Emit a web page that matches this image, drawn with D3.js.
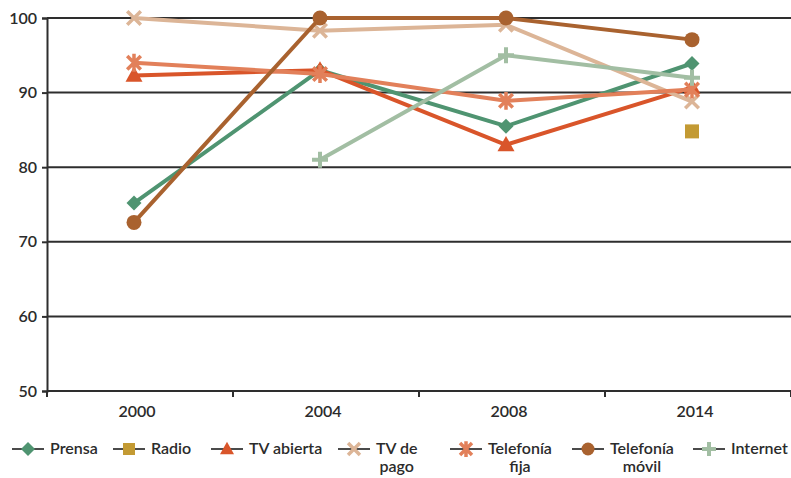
<!DOCTYPE html>
<html>
<head>
<meta charset="utf-8">
<script src="https://cdn.jsdelivr.net/npm/d3@7"></script>
<style>
  html, body { margin: 0; padding: 0; background: #fff; }
  svg { display: block; font-family: Lato, "Open Sans", sans-serif; }
</style>
</head>
<body>
<svg id="chart" width="791" height="478"></svg>
<script>
// Survey years on the x axis
const years = ["2000", "2004", "2008", "2014"];
const yTicks = [50, 60, 70, 80, 90, 100];

// Share (%) per medium and year; null where there was no measurement
const prensa        = [75.2, 93.0, 85.5, 93.9];
const radio         = [null, null, null, 84.8];
const tvAbierta     = [92.3, 93.0, 83.0, 90.7];
const tvPago        = [100, 98.3, 99.1, 88.8];
const telefoniaFija = [94.0, 92.5, 88.9, 90.4];
const telefoniaMovil= [72.6, 100, 100, 97.1];
const internet      = [null, 81.0, 95.0, 92.0];

const seriesNames  = ["Prensa", "Radio", "TV abierta", "TV de pago", "Telefonía fija", "Telefonía móvil", "Internet"];
const seriesValues = [prensa, radio, tvAbierta, tvPago, telefoniaFija, telefoniaMovil, internet];
const seriesColors = ["#4f9471", "#c39a33", "#d9552a", "#dcb597", "#e2805a", "#a9622f", "#a2bea3"];
const seriesShapes = ["diamond", "square", "triangle", "cross", "asterisk", "circle", "plus"];
// Legend labels, split over lines
const legendLines  = [["Prensa"], ["Radio"], ["TV abierta"], ["TV de", "pago"], ["Telefonía", "fija"], ["Telefonía", "móvil"], ["Internet"]];

const svg = d3.select("#chart");
const margin = { left: 47, right: 0, top: 18, bottom: 87 };
const W = 791, H = 478;

const x = d3.scaleBand().domain(years).range([margin.left, W - margin.right]);
const y = d3.scaleLinear().domain([50, 100]).range([H - margin.bottom, margin.top]);

const axisColor = "#2e2e2e";
const textColor = "#2b2b2b";
const fontSize = 16;
const fontWeight = 600;

// Horizontal gridlines
svg.append("g").selectAll("line")
  .data(yTicks.filter(t => t > 50))
  .join("line")
  .attr("x1", margin.left).attr("x2", W)
  .attr("y1", d => y(d)).attr("y2", d => y(d))
  .attr("stroke", axisColor).attr("stroke-width", 2);

// Y axis
const yAxis = svg.append("g")
  .attr("transform", `translate(${margin.left},0)`)
  .call(d3.axisLeft(y).tickValues(yTicks).tickSize(5).tickPadding(5));
yAxis.select(".domain").attr("stroke", axisColor).attr("stroke-width", 2);
yAxis.selectAll(".tick line").attr("stroke", axisColor).attr("stroke-width", 2);
yAxis.selectAll(".tick text")
  .attr("fill", textColor).attr("font-size", fontSize).attr("font-weight", fontWeight)
  .attr("font-family", "Lato, sans-serif");

// X axis: category labels centred in bands, ticks on band boundaries
const xg = svg.append("g").attr("transform", `translate(0,${y(50)})`);
xg.append("line").attr("x1", margin.left).attr("x2", W)
  .attr("stroke", axisColor).attr("stroke-width", 2);
const bounds = years.map(d => x(d)).concat([x(years[years.length - 1]) + x.bandwidth()]);
xg.selectAll("line.tk").data(bounds).join("line").attr("class", "tk")
  .attr("x1", d => d).attr("x2", d => d).attr("y1", 0).attr("y2", 6)
  .attr("stroke", axisColor).attr("stroke-width", 2);
xg.selectAll("text").data(years).join("text")
  .attr("x", d => x(d) + x.bandwidth() / 2 - 3)
  .attr("y", 26)
  .attr("text-anchor", "middle")
  .attr("fill", textColor).attr("font-size", fontSize).attr("font-weight", fontWeight)
  .text(d => d);

// Marker drawing
function drawMarker(g, shape, color, s) {
  switch (shape) {
    case "diamond":
      g.append("path").attr("d", `M0,${-s}L${s},0L0,${s}L${-s},0Z`).attr("fill", color);
      break;
    case "square":
      g.append("rect").attr("x", -s).attr("y", -s)
        .attr("width", s * 2).attr("height", s * 2).attr("fill", color);
      break;
    case "triangle":
      g.append("path").attr("d", `M0,${-s * 1.05}L${s},${s * 0.75}L${-s},${s * 0.75}Z`).attr("fill", color);
      break;
    case "circle":
      g.append("circle").attr("r", s).attr("fill", color);
      break;
    case "cross": {
      const a = s * 0.85;
      g.append("path").attr("d", `M${-a},${-a}L${a},${a}M${-a},${a}L${a},${-a}`)
        .attr("stroke", color).attr("stroke-width", 3.5).attr("fill", "none");
      break;
    }
    case "asterisk": {
      const a = s * 0.8;
      g.append("path").attr("d", `M${-a},${-a}L${a},${a}M${-a},${a}L${a},${-a}M0,${-s * 1.05}L0,${s * 1.05}`)
        .attr("stroke", color).attr("stroke-width", 3.5).attr("fill", "none");
      break;
    }
    case "plus":
      g.append("path").attr("d", `M${-s},0L${s},0M0,${-s}L0,${s}`)
        .attr("stroke", color).attr("stroke-width", 4).attr("fill", "none");
      break;
  }
}
const markerSize = { diamond: 7.5, square: 7, triangle: 8.5, circle: 7.5, cross: 8, asterisk: 8.5, plus: 8 };
const legendSize = { diamond: 7, square: 6, triangle: 7, circle: 6.5, cross: 7, asterisk: 7.5, plus: 7 };

const cx = d => x(d) + x.bandwidth() / 2 - 6;

// Series lines and markers
seriesValues.forEach((vals, i) => {
  const pts = years.map((yr, j) => ({ yr, v: vals[j] }));
  const line = d3.line()
    .defined(d => d.v != null)
    .x(d => cx(d.yr)).y(d => y(d.v));
  svg.append("path").datum(pts)
    .attr("d", line)
    .attr("fill", "none")
    .attr("stroke", seriesColors[i])
    .attr("stroke-width", 4)
    .attr("stroke-linejoin", "round");
  pts.filter(d => d.v != null).forEach(d => {
    const g = svg.append("g").attr("transform", `translate(${cx(d.yr)},${y(d.v)})`);
    drawMarker(g, seriesShapes[i], seriesColors[i], markerSize[seriesShapes[i]]);
  });
});

// Legend
const legendX = [12, 113, 211, 338, 450, 572, 693];
const legendY = 449;
seriesNames.forEach((name, i) => {
  const g = svg.append("g").attr("transform", `translate(${legendX[i]},${legendY})`);
  g.append("line").attr("x1", 0).attr("x2", 32).attr("stroke", "#1e1e1e").attr("stroke-width", 1.6);
  const m = g.append("g").attr("transform", "translate(16,0)");
  drawMarker(m, seriesShapes[i], seriesColors[i], legendSize[seriesShapes[i]]);
  const lines = legendLines[i];
  const t = g.append("text")
    .attr("fill", textColor).attr("font-size", fontSize).attr("font-weight", fontWeight);
  if (lines.length === 1) {
    t.attr("x", 38).attr("y", 5).text(lines[0]);
  } else {
    t.attr("text-anchor", "middle").attr("class", "multi");
    t.append("tspan").attr("x", 38).attr("y", 5).text(lines[0]);
    t.append("tspan").attr("x", 38).attr("y", 23).text(lines[1]);
  }
});
// Centre two-line legend labels on their first line
svg.selectAll("text.multi").each(function () {
  const el = d3.select(this);
  const w = el.select("tspan").node().getComputedTextLength();
  el.selectAll("tspan").attr("x", 38 + w / 2);
});
</script>
</body>
</html>
